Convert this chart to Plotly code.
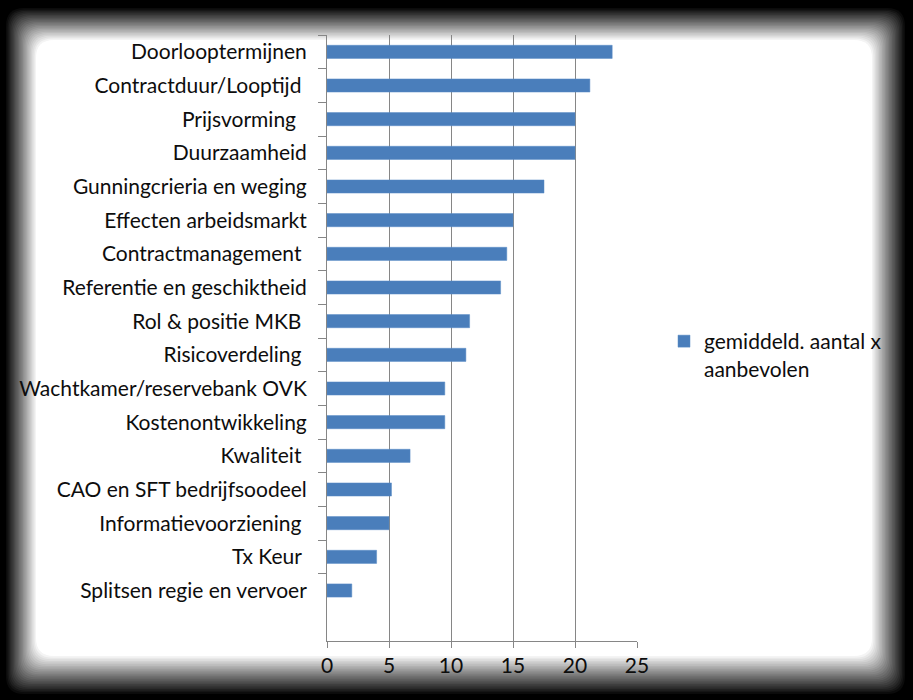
import plotly.graph_objects as go

categories = [
    "Doorlooptermijnen",
    "Contractduur/Looptijd ",
    "Prijsvorming  ",
    "Duurzaamheid",
    "Gunningcrieria en weging",
    "Effecten arbeidsmarkt",
    "Contractmanagement ",
    "Referentie en geschiktheid",
    "Rol & positie MKB ",
    "Risicoverdeling ",
    "Wachtkamer/reservebank OVK",
    "Kostenontwikkeling",
    "Kwaliteit ",
    "CAO en SFT bedrijfsoodeel",
    "Informatievoorziening ",
    "Tx Keur ",
    "Splitsen regie en vervoer",
]
values = [23, 21.2, 20, 20, 17.5, 15, 14.5, 14, 11.5, 11.2, 9.5, 9.5, 6.7, 5.2, 5, 4, 2]
series_name = "gemiddeld. aantal x<br>aanbevolen"
x_ticks = [0, 5, 10, 15, 20, 25]

W, H = 913, 700
ML, MR, MT, MB = 327, 276, 35, 59
PW, PH = W - ML - MR, H - MT - MB

def nb(s):
    stripped = s.rstrip(" ")
    return stripped + "\u00a0" * (len(s) - len(stripped))

labels = [nb(c) for c in categories]

FONT = "Lato"
FS = 21
TXT = "#0d0d0d"
GRID = "#868686"

fig = go.Figure()
fig.add_trace(go.Bar(
    x=values, y=labels, orientation="h",
    marker=dict(color="#4A7EBB", line=dict(color="#5B8CC6", width=0.5)),
    name=series_name, showlegend=True,
))

def px2paper(px, py):
    return (px - ML) / PW, (H - MB - py) / PH

def rrect(x0, y0, x1, y1, r):
    def P(x, y):
        a, b = px2paper(x, y)
        return f"{a:.5f},{b:.5f}"
    d = (f"M{P(x0 + r, y0)} L{P(x1 - r, y0)} Q{P(x1, y0)} {P(x1, y0 + r)} "
         f"L{P(x1, y1 - r)} Q{P(x1, y1)} {P(x1 - r, y1)} "
         f"L{P(x0 + r, y1)} Q{P(x0, y1)} {P(x0, y1 - r)} "
         f"L{P(x0, y0 + r)} Q{P(x0, y0)} {P(x0 + r, y0)} Z")
    return d

shapes = []
outer = (6, 8, 905, 694)
inner = (36, 40, 872, 656)
N = 24
for i in range(1, N + 1):
    t = (i - 1) / (N - 1)
    x0 = outer[0] + (inner[0] - outer[0]) * t
    y0 = outer[1] + (inner[1] - outer[1]) * t
    x1 = outer[2] + (inner[2] - outer[2]) * t
    y1 = outer[3] + (inner[3] - outer[3]) * t
    op = 1.0 / (N - i + 1)
    shapes.append(dict(type="path", xref="paper", yref="paper",
                       path=rrect(x0, y0, x1, y1, 18), fillcolor="white",
                       opacity=op, line=dict(width=0), layer="below"))

fig.update_layout(
    width=W, height=H,
    margin=dict(l=ML, r=MR, t=MT, b=MB, pad=0),
    paper_bgcolor="black",
    plot_bgcolor="rgba(0,0,0,0)",
    font=dict(family=FONT, size=FS, color=TXT),
    bargap=0.61,
    shapes=shapes,
    showlegend=True,
    legend=dict(x=(664 - ML) / PW, y=(H - MB - 321) / PH, xanchor="left", yanchor="top",
                bgcolor="rgba(0,0,0,0)", font=dict(family=FONT, size=FS, color=TXT),
                valign="top", itemwidth=30, tracegroupgap=0),
)
fig.update_xaxes(
    range=[0, 25], tickvals=x_ticks, ticktext=[str(v) for v in x_ticks],
    showgrid=True, gridcolor=GRID, gridwidth=1, zeroline=False,
    showline=True, linecolor=GRID, linewidth=1,
    ticks="outside", ticklen=6, tickcolor=GRID,
    tickfont=dict(family=FONT, size=FS, color=TXT),
    fixedrange=True,
)
fig.update_yaxes(
    type="category", categoryorder="array", categoryarray=labels,
    range=[len(labels) - 0.5 + 1, -0.5],
    showgrid=False, zeroline=False,
    showline=True, linecolor=GRID, linewidth=1,
    ticks="outside", ticklen=8, tickcolor=GRID, tickson="boundaries",
    ticklabelstandoff=15,
    tickfont=dict(family=FONT, size=FS, color=TXT),
    fixedrange=True,
)
fig.write_html(
    "out.html",
    config={"displayModeBar": False},
    post_script="document.body.style.margin='0';document.body.style.background='black';document.body.style.overflow='hidden';",
)
